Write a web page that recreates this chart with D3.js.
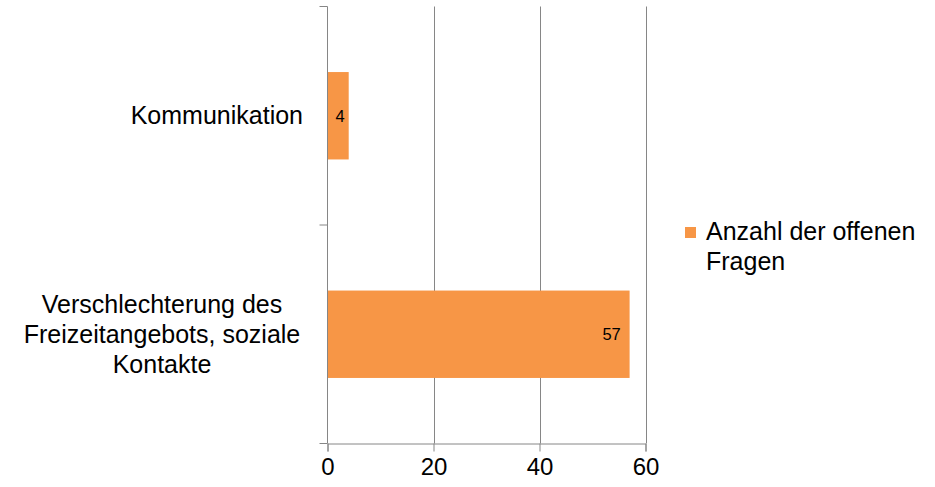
<!DOCTYPE html>
<html>
<head>
<meta charset="utf-8">
<script src="https://cdn.jsdelivr.net/npm/d3@7"></script>
<style>
  html, body { margin: 0; padding: 0; background: #fff; }
  svg { display: block; font-family: "Liberation Sans", Arial, sans-serif; }
</style>
</head>
<body>
<svg id="chart" width="935" height="487"></svg>
<script>
// Data
const categories = ["Kommunikation", "Verschlechterung des Freizeitangebots, soziale Kontakte"];
const categoryLines = [["Kommunikation"], ["Verschlechterung des", "Freizeitangebots, soziale", "Kontakte"]];
const values = [4, 57];
const xTicks = [0, 20, 40, 60];
const seriesName = ["Anzahl der offenen", "Fragen"];

(function () {
const pLeft = 327.5, pRight = 645.5, pTop = 6.5, pBottom = 443.5;
const barColor = "#F79646";
const axisColor = "#868686";

const svg = d3.select("#chart");

const x = d3.scaleLinear().domain([0, 60]).range([pLeft, pRight]);
const y = d3.scaleBand().domain(categories).range([pTop, pBottom])
  .paddingInner(0.6).paddingOuter(0.3);
const yEdge = d3.scaleLinear().domain([0, categories.length]).range([pTop, pBottom]);

// gridlines
svg.append("g").selectAll("line").data(xTicks.filter(d => d !== 0)).join("line")
  .attr("x1", d => Math.round(x(d)) + 0.5).attr("x2", d => Math.round(x(d)) + 0.5)
  .attr("y1", pTop).attr("y2", pBottom)
  .attr("stroke", axisColor).attr("stroke-width", 1);

// bars
svg.append("g").selectAll("rect").data(values).join("rect")
  .attr("x", x(0))
  .attr("y", (d, i) => y(categories[i]))
  .attr("width", d => x(d) - x(0))
  .attr("height", y.bandwidth())
  .attr("fill", barColor);

// x axis
const xAxis = d3.axisBottom(x).tickValues(xTicks).tickSize(8).tickPadding(6).tickFormat(d3.format("d"));
const gx = svg.append("g").attr("transform", `translate(0,${pBottom})`).call(xAxis);
gx.select(".domain").attr("stroke", axisColor);
gx.selectAll(".tick line").attr("stroke", axisColor);
gx.selectAll(".tick text").attr("font-size", 24).attr("fill", "#000")
  .attr("font-family", "'Liberation Sans', Arial, sans-serif");

// y axis line + category boundary ticks
svg.append("line").attr("x1", pLeft).attr("x2", pLeft).attr("y1", pTop).attr("y2", pBottom)
  .attr("stroke", axisColor);
svg.append("g").selectAll("line").data(d3.range(categories.length + 1)).join("line")
  .attr("x1", pLeft - 8).attr("x2", pLeft)
  .attr("y1", d => yEdge(d)).attr("y2", d => yEdge(d))
  .attr("stroke", axisColor);

// category labels
const lineH = 30;
categoryLines.forEach((lines, i) => {
  const cy = y(categories[i]) + y.bandwidth() / 2;
  const t = svg.append("text").attr("font-size", 25).attr("fill", "#000");
  if (lines.length === 1) {
    t.attr("x", 303).attr("y", cy + 8.5).attr("text-anchor", "end").text(lines[0]);
  } else {
    const y0 = cy - (lines.length - 1) / 2 * lineH + 8.5;
    lines.forEach((ln, j) => {
      t.append("tspan").attr("x", 162).attr("y", y0 + j * lineH)
        .attr("text-anchor", "middle").text(ln);
    });
  }
});

// data labels
svg.append("g").selectAll("text").data(values).join("text")
  .attr("x", d => Math.max(x(d) - 18, (x(0) + x(d)) / 2 + 2))
  .attr("y", (d, i) => y(categories[i]) + y.bandwidth() / 2 + 6)
  .attr("text-anchor", "middle")
  .attr("font-size", 16.5).attr("fill", "#000")
  .text(d => d);

// legend
const lg = svg.append("g");
lg.append("rect").attr("x", 685).attr("y", 227).attr("width", 11).attr("height", 11).attr("fill", barColor);
const lt = lg.append("text").attr("font-size", 25).attr("fill", "#000");
seriesName.forEach((s, j) => {
  lt.append("tspan").attr("x", 706).attr("y", 240 + j * lineH).text(s);
});
})();
</script>
</body>
</html>
